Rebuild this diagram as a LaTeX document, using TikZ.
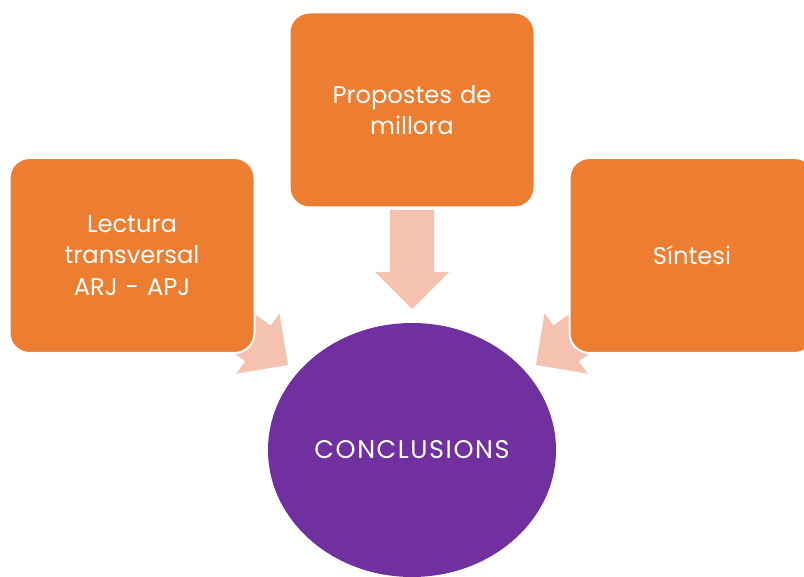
\documentclass[tikz,border=0pt]{standalone}
\usepackage{fontspec}
\setmainfont{Poppins}
\usetikzlibrary{shapes.geometric}
\definecolor{boxorange}{HTML}{ED7D31}
\definecolor{arrowpink}{HTML}{F4C2AE}
\definecolor{circpurple}{HTML}{7030A0}
\begin{document}
\begin{tikzpicture}[x=1pt,y=-1pt,
  stepbox/.style={rectangle, rounded corners=20pt, fill=boxorange, draw=white,
    line width=2pt, minimum width=245pt, minimum height=195pt, inner sep=0pt,
    text=white, align=center, text width=235pt,
    font=\fontsize{24.2}{31.5}\selectfont},
  goal/.style={ellipse, fill=circpurple, minimum width=288pt, minimum height=254pt,
    inner sep=0pt, text=white, font=\fontsize{25.5}{31.5}\selectfont\addfontfeatures{LetterSpace=6}},
  blockarrow/.style={fill=arrowpink}]
\useasboundingbox (0,0) rectangle (804,577);
\fill[white] (0,0) rectangle (804,577);
\clip (0,0) rectangle (804,577);
% block arrows
\fill[blockarrow] (390,210) -- (434,210) -- (434,272) -- (449,272) -- (412,309)
  -- (375,272) -- (390,272) -- cycle;
\begin{scope}[shift={(288,365)}, rotate=54.4]
  \fill[blockarrow] (-22,-99) -- (22,-99) -- (22,-37) -- (37,-37) -- (0,0)
    -- (-37,-37) -- (-22,-37) -- cycle;
\end{scope}
\begin{scope}[shift={(536,365)}, rotate=-54.4]
  \fill[blockarrow] (-22,-99) -- (22,-99) -- (22,-37) -- (37,-37) -- (0,0)
    -- (-37,-37) -- (-22,-37) -- cycle;
\end{scope}
% boxes
\node[stepbox] (lect) at (132,255.5) {Lectura\\transversal\\ARJ - APJ};
\node[stepbox] (prop) at (412,110) {Propostes de\\millora};
\node[stepbox] (sint) at (692,255.5) {Síntesi};
% conclusion
\node[goal] (concl) at (412,450) {CONCLUSIONS};
\end{tikzpicture}
\end{document}
